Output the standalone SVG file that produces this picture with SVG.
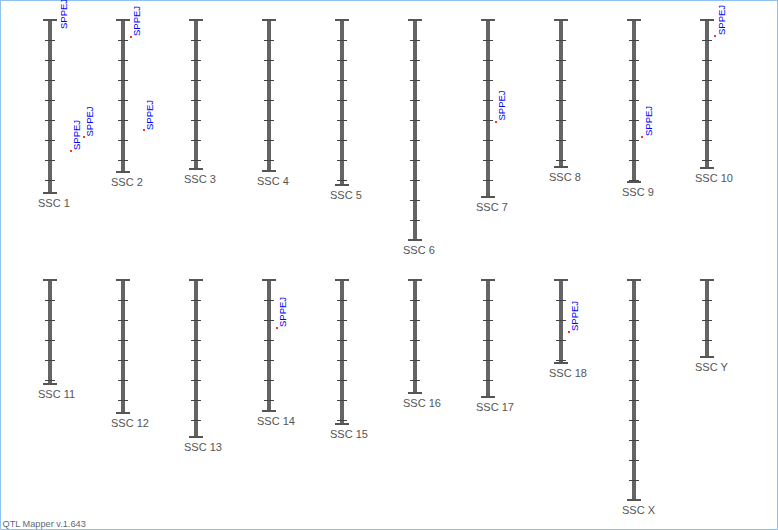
<svg xmlns="http://www.w3.org/2000/svg" width="778" height="530" viewBox="0 0 778 530">
<style>
.bar{fill:#646464}
.cap{stroke:#555;stroke-width:2}
.tick{stroke:#444;stroke-width:1;fill:none}
.lbl{font-family:"Liberation Sans",Arial,sans-serif;font-size:11px;fill:#555}
.mk{font-family:"Liberation Sans",Arial,sans-serif;font-size:9.5px;fill:#0000ff}
.dot{fill:#ff3030}
.ver{font-family:"Liberation Sans",Arial,sans-serif;font-size:9.2px;fill:#5a6a7a}
</style>
<rect x="0.5" y="0.5" width="777" height="529" fill="#fff" stroke="#90c4ee"/>
<g id="ssc1"><rect class="bar" x="48" y="20" width="4" height="173"/><path class="tick" d="M45 40.5h10M45 60.5h10M45 80.5h10M45 100.5h10M45 120.5h10M45 140.5h10M45 160.5h10M45 180.5h10"/><path class="cap" d="M43 20h14M43 193h14"/><text class="lbl" x="38" y="207">SSC 1</text>
<text class="mk" transform="translate(66.5,29) rotate(-90)">SPPEJ</text>
<rect class="dot" x="70" y="150" width="2" height="2"/><text class="mk" transform="translate(80,150) rotate(-90)">SPPEJ</text>
<rect class="dot" x="83" y="136" width="2" height="2"/><text class="mk" transform="translate(93,136.5) rotate(-90)">SPPEJ</text></g>
<g id="ssc2"><rect class="bar" x="121" y="20" width="4" height="152"/><path class="tick" d="M118 40.5h10M118 60.5h10M118 80.5h10M118 100.5h10M118 120.5h10M118 140.5h10M118 160.5h10"/><path class="cap" d="M116 20h14M116 172h14"/><text class="lbl" x="111" y="186">SSC 2</text>
<rect class="dot" x="130" y="36" width="2" height="2"/><text class="mk" transform="translate(139.5,36) rotate(-90)">SPPEJ</text>
<rect class="dot" x="143" y="129" width="2" height="2"/><text class="mk" transform="translate(152.7,130) rotate(-90)">SPPEJ</text></g>
<g id="ssc3"><rect class="bar" x="194" y="20" width="4" height="149"/><path class="tick" d="M191 40.5h10M191 60.5h10M191 80.5h10M191 100.5h10M191 120.5h10M191 140.5h10M191 160.5h10"/><path class="cap" d="M189 20h14M189 169h14"/><text class="lbl" x="184" y="183">SSC 3</text></g>
<g id="ssc4"><rect class="bar" x="267" y="20" width="4" height="151"/><path class="tick" d="M264 40.5h10M264 60.5h10M264 80.5h10M264 100.5h10M264 120.5h10M264 140.5h10M264 160.5h10"/><path class="cap" d="M262 20h14M262 171h14"/><text class="lbl" x="257" y="185">SSC 4</text></g>
<g id="ssc5"><rect class="bar" x="340" y="20" width="4" height="165"/><path class="tick" d="M337 40.5h10M337 60.5h10M337 80.5h10M337 100.5h10M337 120.5h10M337 140.5h10M337 160.5h10M337 180.5h10"/><path class="cap" d="M335 20h14M335 185h14"/><text class="lbl" x="330" y="199">SSC 5</text></g>
<g id="ssc6"><rect class="bar" x="413" y="20" width="4" height="220"/><path class="tick" d="M410 40.5h10M410 60.5h10M410 80.5h10M410 100.5h10M410 120.5h10M410 140.5h10M410 160.5h10M410 180.5h10M410 200.5h10M410 220.5h10"/><path class="cap" d="M408 20h14M408 240h14"/><text class="lbl" x="403" y="254">SSC 6</text></g>
<g id="ssc7"><rect class="bar" x="486" y="20" width="4" height="177"/><path class="tick" d="M483 40.5h10M483 60.5h10M483 80.5h10M483 100.5h10M483 120.5h10M483 140.5h10M483 160.5h10M483 180.5h10"/><path class="cap" d="M481 20h14M481 197h14"/><text class="lbl" x="476" y="211">SSC 7</text>
<rect class="dot" x="495" y="121" width="2" height="2"/><text class="mk" transform="translate(504.7,120.5) rotate(-90)">SPPEJ</text></g>
<g id="ssc8"><rect class="bar" x="559" y="20" width="4" height="147"/><path class="tick" d="M556 40.5h10M556 60.5h10M556 80.5h10M556 100.5h10M556 120.5h10M556 140.5h10M556 160.5h10"/><path class="cap" d="M554 20h14M554 167h14"/><text class="lbl" x="549" y="181">SSC 8</text></g>
<g id="ssc9"><rect class="bar" x="632" y="20" width="4" height="162"/><path class="tick" d="M629 40.5h10M629 60.5h10M629 80.5h10M629 100.5h10M629 120.5h10M629 140.5h10M629 160.5h10M629 180.5h10"/><path class="cap" d="M627 20h14M627 182h14"/><text class="lbl" x="622" y="196">SSC 9</text>
<rect class="dot" x="641" y="136" width="2" height="2"/><text class="mk" transform="translate(651.7,136) rotate(-90)">SPPEJ</text></g>
<g id="ssc10"><rect class="bar" x="705" y="20" width="4" height="148"/><path class="tick" d="M702 40.5h10M702 60.5h10M702 80.5h10M702 100.5h10M702 120.5h10M702 140.5h10M702 160.5h10"/><path class="cap" d="M700 20h14M700 168h14"/><text class="lbl" x="695" y="182">SSC 10</text>
<rect class="dot" x="714" y="35" width="2" height="2"/><text class="mk" transform="translate(724.5,35) rotate(-90)">SPPEJ</text></g>
<g id="ssc11"><rect class="bar" x="48" y="280" width="4" height="104"/><path class="tick" d="M45 300.5h10M45 320.5h10M45 340.5h10M45 360.5h10M45 380.5h10"/><path class="cap" d="M43 280h14M43 384h14"/><text class="lbl" x="38" y="398">SSC 11</text></g>
<g id="ssc12"><rect class="bar" x="121" y="280" width="4" height="133"/><path class="tick" d="M118 300.5h10M118 320.5h10M118 340.5h10M118 360.5h10M118 380.5h10M118 400.5h10"/><path class="cap" d="M116 280h14M116 413h14"/><text class="lbl" x="111" y="427">SSC 12</text></g>
<g id="ssc13"><rect class="bar" x="194" y="280" width="4" height="157"/><path class="tick" d="M191 300.5h10M191 320.5h10M191 340.5h10M191 360.5h10M191 380.5h10M191 400.5h10M191 420.5h10"/><path class="cap" d="M189 280h14M189 437h14"/><text class="lbl" x="184" y="451">SSC 13</text></g>
<g id="ssc14"><rect class="bar" x="267" y="280" width="4" height="131"/><path class="tick" d="M264 300.5h10M264 320.5h10M264 340.5h10M264 360.5h10M264 380.5h10M264 400.5h10"/><path class="cap" d="M262 280h14M262 411h14"/><text class="lbl" x="257" y="425">SSC 14</text>
<rect class="dot" x="276" y="327" width="2" height="2"/><text class="mk" transform="translate(285.7,327) rotate(-90)">SPPEJ</text></g>
<g id="ssc15"><rect class="bar" x="340" y="280" width="4" height="144"/><path class="tick" d="M337 300.5h10M337 320.5h10M337 340.5h10M337 360.5h10M337 380.5h10M337 400.5h10M337 420.5h10"/><path class="cap" d="M335 280h14M335 424h14"/><text class="lbl" x="330" y="438">SSC 15</text></g>
<g id="ssc16"><rect class="bar" x="413" y="280" width="4" height="113"/><path class="tick" d="M410 300.5h10M410 320.5h10M410 340.5h10M410 360.5h10M410 380.5h10"/><path class="cap" d="M408 280h14M408 393h14"/><text class="lbl" x="403" y="407">SSC 16</text></g>
<g id="ssc17"><rect class="bar" x="486" y="280" width="4" height="117"/><path class="tick" d="M483 300.5h10M483 320.5h10M483 340.5h10M483 360.5h10M483 380.5h10"/><path class="cap" d="M481 280h14M481 397h14"/><text class="lbl" x="476" y="411">SSC 17</text></g>
<g id="ssc18"><rect class="bar" x="559" y="280" width="4" height="83"/><path class="tick" d="M556 300.5h10M556 320.5h10M556 340.5h10M556 360.5h10"/><path class="cap" d="M554 280h14M554 363h14"/><text class="lbl" x="549" y="377">SSC 18</text>
<rect class="dot" x="568" y="331" width="2" height="2"/><text class="mk" transform="translate(578.3,331) rotate(-90)">SPPEJ</text></g>
<g id="sscX"><rect class="bar" x="632" y="280" width="4" height="220"/><path class="tick" d="M629 300.5h10M629 320.5h10M629 340.5h10M629 360.5h10M629 380.5h10M629 400.5h10M629 420.5h10M629 440.5h10M629 460.5h10M629 480.5h10"/><path class="cap" d="M627 280h14M627 500h14"/><text class="lbl" x="622" y="514">SSC X</text></g>
<g id="sscY"><rect class="bar" x="705" y="280" width="4" height="77"/><path class="tick" d="M702 300.5h10M702 320.5h10M702 340.5h10"/><path class="cap" d="M700 280h14M700 357h14"/><text class="lbl" x="695" y="371">SSC Y</text></g>
<text class="ver" x="2.5" y="527">QTL Mapper v.1.643</text>
</svg>
